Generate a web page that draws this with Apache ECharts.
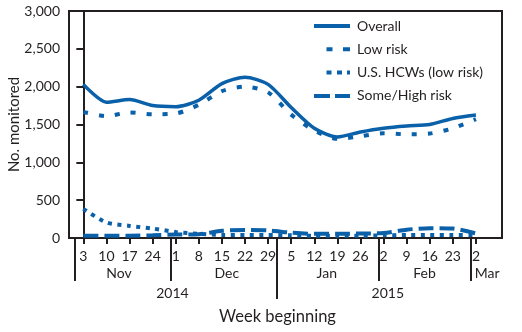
<!DOCTYPE html>
<html>
<head>
<meta charset="utf-8">
<script src="https://cdn.jsdelivr.net/npm/echarts@6/dist/echarts.min.js"></script>
<style>
  html, body { margin: 0; padding: 0; background: #fff; }
  #chart { width: 522px; height: 332px; }
</style>
</head>
<body>
<div id="chart"></div>
<script>
// Weeks beginning Nov 3, 2014 through Mar 2, 2015 (x = days since Nov 3, 2014)
const weekDays = [0, 7, 14, 21, 28, 35, 42, 49, 56, 63, 70, 77, 84, 91, 98, 105, 112, 119];
const weekLabels = ['3', '10', '17', '24', '1', '8', '15', '22', '29', '5', '12', '19', '26', '2', '9', '16', '23', '2'];

// Number of persons monitored per week
const overall      = [2030, 1795, 1830, 1750, 1735, 1820, 2040, 2125, 2030, 1725, 1450, 1335, 1400, 1450, 1480, 1500, 1580, 1625];
const lowRisk      = [1665, 1610, 1660, 1635, 1645, 1760, 1940, 2000, 1925, 1630, 1420, 1310, 1345, 1385, 1370, 1380, 1450, 1570];
const hcwLowRisk   = [385, 205, 160, 125, 80, 55, 40, 40, 40, 35, 30, 30, 30, 35, 40, 40, 40, 40];
const someHighRisk = [30, 30, 30, 35, 45, 50, 95, 105, 100, 70, 55, 55, 60, 65, 110, 130, 125, 60];

// Month and year rows under the week row
const monthNames = ['Nov', 'Dec', 'Jan', 'Feb', 'Mar'];
const yearNames = ['2014', '2015'];

// Layout for the month/year rows, in days since Nov 3, 2014
const monthEdges = [-2.6, 26.6, 58.6, 89.6, 117.5];
const monthCenters = [10.8, 43.5, 73.8, 103.4, 122.4];
const yearEdges = [58.6];
const yearCenters = [27, 92.3];

const ink = '#231f20';
const blue = '#0a60a9';
const font = 'Lato, "Liberation Sans", Arial, sans-serif';
const xMin = -4.35, xMax = 126.9;

const pairs = vals => weekDays.map((d, i) => [d, vals[i]]);

const chart = echarts.init(document.getElementById('chart'), null, { renderer: 'canvas' });

const baseX = {
  type: 'value', min: xMin, max: xMax, gridIndex: 0, position: 'bottom',
  splitLine: { show: false }
};

chart.setOption({
  animation: false,
  textStyle: { fontFamily: font, color: ink },
  grid: {
    left: 69, right: 20, top: 11, bottom: 94,
    containLabel: false, outerBoundsMode: 'none',
    show: true, borderColor: ink, borderWidth: 2, backgroundColor: 'transparent'
  },
  legend: {
    orient: 'vertical', left: 314, top: 19,
    itemWidth: 36, itemHeight: 14, itemGap: 9.3, padding: 0,
    selectedMode: false,
    textStyle: { fontFamily: font, fontSize: 14, color: ink, padding: [0, 0, 0, 2] },
    data: [
      { name: 'Overall', icon: 'path://M0,0h36v4h-36z' },
      { name: 'Low risk', icon: 'path://M0,0M12.5,0h6v4h-6zM29,0h7v4h-7z' },
      { name: 'U.S. HCWs (low risk)', icon: 'path://M0,0M12.5,0h5v4h-5zM23,0h5v4h-5zM33,0h3v4h-3z' },
      { name: 'Some/High risk', icon: 'path://M0,0h16v4h-16zM21,0h15v4h-15z' }
    ]
  },
  xAxis: [
    Object.assign({}, baseX, {
      axisLine: { show: true, lineStyle: { color: ink, width: 2 } },
      axisTick: { show: true, customValues: weekDays, length: 6, lineStyle: { color: ink, width: 2 } },
      axisLabel: {
        customValues: weekDays, margin: 11, fontSize: 14, color: ink, fontFamily: font,
        formatter: v => weekLabels[weekDays.indexOf(v)]
      },
      name: 'Week beginning', nameLocation: 'middle', nameGap: 70, nameMoveOverlap: false,
      nameTextStyle: { fontSize: 16.5, color: ink, fontFamily: font, padding: [0, 16, 0, 0] }
    }),
    Object.assign({}, baseX, {
      axisLine: { show: false },
      axisTick: { show: true, customValues: monthEdges, length: 43, lineStyle: { color: ink, width: 2 } },
      axisLabel: {
        customValues: monthCenters, margin: 28, fontSize: 14, color: ink, fontFamily: font,
        formatter: v => monthNames[monthCenters.indexOf(v)]
      }
    }),
    Object.assign({}, baseX, {
      axisLine: { show: false },
      axisTick: { show: true, customValues: yearEdges, length: 61, lineStyle: { color: ink, width: 2 } },
      axisLabel: {
        customValues: yearCenters, margin: 48, fontSize: 14, color: ink, fontFamily: font,
        formatter: v => yearNames[yearCenters.indexOf(v)]
      }
    })
  ],
  yAxis: {
    type: 'value', min: 0, max: 3000, interval: 500,
    axisLine: { show: true, lineStyle: { color: ink, width: 2 } },
    axisTick: { show: true, length: 7, lineStyle: { color: ink, width: 2 } },
    axisLabel: { margin: 9, fontSize: 14, color: ink, fontFamily: font,
      formatter: v => v.toLocaleString('en-US') },
    splitLine: { show: false },
    name: 'No. monitored', nameLocation: 'middle', nameGap: 47, nameMoveOverlap: false,
    nameTextStyle: { fontSize: 15, color: ink, fontFamily: font }
  },
  series: [
    {
      name: 'Overall', type: 'line', data: pairs(overall), z: 5,
      showSymbol: false, smooth: 0.25, color: blue,
      lineStyle: { color: blue, width: 3.5 }
    },
    {
      name: 'Low risk', type: 'line', data: pairs(lowRisk), z: 4,
      showSymbol: false, smooth: 0.25, color: blue,
      lineStyle: { color: blue, width: 4, type: [5, 11], cap: 'butt' }
    },
    {
      name: 'U.S. HCWs (low risk)', type: 'line', data: pairs(hcwLowRisk), z: 3,
      showSymbol: false, smooth: 0.25, color: blue,
      lineStyle: { color: blue, width: 4, type: [4, 5.5], cap: 'butt' }
    },
    {
      name: 'Some/High risk', type: 'line', data: pairs(someHighRisk), z: 4,
      showSymbol: false, smooth: 0.25, color: blue,
      lineStyle: { color: blue, width: 4, type: [15, 6], cap: 'butt' }
    }
  ]
});
</script>
</body>
</html>
